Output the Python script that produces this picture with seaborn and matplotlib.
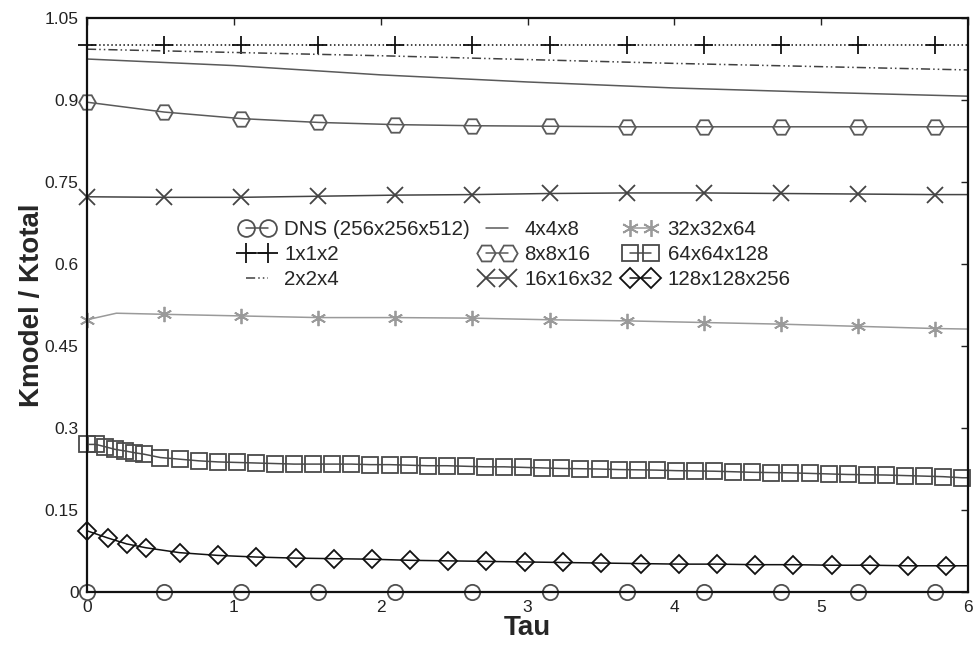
import matplotlib
matplotlib.use("Agg")
import matplotlib.pyplot as plt
from matplotlib.lines import Line2D
import seaborn as sns

# ---------------- data ----------------
tau_ticks = [0, 1, 2, 3, 4, 5, 6]
y_ticks = [0, 0.15, 0.3, 0.45, 0.6, 0.75, 0.9, 1.05]
y_tick_labels = ["0", "0.15", "0.3", "0.45", "0.6", "0.75", "0.9", "1.05"]

labels = ["DNS (256x256x512)", "1x1x2", "2x2x4", "4x4x8", "8x8x16",
          "16x16x32", "32x32x64", "64x64x128", "128x128x256"]

# coarse sampling shared by several series (marker positions) + end point
coarse_tau = [0, 0.525, 1.05, 1.575, 2.10, 2.625, 3.15, 3.675, 4.20, 4.725, 5.25, 5.775, 6.0]

dns_k = [0, 0, 0, 0, 0, 0, 0, 0, 0, 0, 0, 0, 0]
k_1x1x2 = [1.0, 1.0, 1.0, 1.0, 1.0, 1.0, 1.0, 1.0, 1.0, 1.0, 1.0, 1.0, 1.0]

smooth_tau = [0, 1, 2, 3, 4, 5, 6]
k_2x2x4 = [0.993, 0.987, 0.981, 0.974, 0.967, 0.961, 0.955]
k_4x4x8 = [0.975, 0.963, 0.946, 0.933, 0.922, 0.914, 0.907]

k_8x8x16 = [0.896, 0.878, 0.866, 0.859, 0.855, 0.853, 0.852, 0.851, 0.851, 0.851, 0.851, 0.851, 0.851]
k_16x16x32 = [0.723, 0.722, 0.722, 0.724, 0.726, 0.727, 0.729, 0.730, 0.730, 0.729, 0.728, 0.727, 0.727]

tau_32 = [0, 0.2, 0.525, 1.05, 1.575, 2.10, 2.625, 3.15, 3.675, 4.20, 4.725, 5.25, 5.775, 6.0]
k_32x32x64 = [0.498, 0.510, 0.508, 0.505, 0.502, 0.502, 0.501, 0.498, 0.496, 0.493, 0.490, 0.486, 0.482, 0.481]

tau_64 = [0, 0.06, 0.12, 0.19, 0.26, 0.32, 0.39, 0.50, 0.63, 0.76, 0.89, 1.02, 1.15,
          1.28, 1.41, 1.54, 1.67, 1.80, 1.93, 2.06, 2.19, 2.32, 2.45, 2.58, 2.71,
          2.84, 2.97, 3.10, 3.23, 3.36, 3.49, 3.62, 3.75, 3.88, 4.01, 4.14, 4.27,
          4.40, 4.53, 4.66, 4.79, 4.92, 5.05, 5.18, 5.31, 5.44, 5.57, 5.70, 5.83, 5.96, 6.0]
k_64x64x128 = [0.270, 0.270, 0.266, 0.261, 0.258, 0.255, 0.252, 0.246, 0.243, 0.240, 0.238, 0.237, 0.236,
               0.235, 0.234, 0.234, 0.234, 0.234, 0.233, 0.233, 0.232, 0.231, 0.231, 0.230, 0.229,
               0.229, 0.228, 0.227, 0.226, 0.2255, 0.225, 0.224, 0.2235, 0.223, 0.222, 0.2215, 0.221,
               0.220, 0.219, 0.2185, 0.218, 0.217, 0.216, 0.215, 0.2145, 0.214, 0.213, 0.212, 0.211, 0.209, 0.209]

tau_128 = [0, 0.14, 0.27, 0.40, 0.63, 0.89, 1.15, 1.42, 1.68, 1.94, 2.20, 2.46, 2.72,
           2.98, 3.24, 3.50, 3.77, 4.03, 4.29, 4.55, 4.81, 5.07, 5.33, 5.59, 5.85, 6.0]
k_128x128x256 = [0.112, 0.099, 0.088, 0.081, 0.072, 0.067, 0.064, 0.062, 0.061, 0.060, 0.058, 0.057, 0.056,
                 0.055, 0.054, 0.053, 0.052, 0.051, 0.051, 0.050, 0.050, 0.049, 0.049, 0.048, 0.048, 0.048]

# ---------------- style ----------------
sns.set_style("white")
plt.rcParams["font.family"] = ["Liberation Sans", "DejaVu Sans"]

fig = plt.figure(figsize=(9.73, 6.48), dpi=100)
ax = fig.add_axes([0.0894, 0.0864, 0.9056, 0.8858])

ASTER = (6, 2, 0)
dashdotdot = (0, (6, 2, 1, 2, 1, 2))

series = [
    # x, y, color, linestyle, marker, ms, markevery
    (coarse_tau, dns_k, "#505050", "-", "o", 11, list(range(12))),
    (coarse_tau, k_1x1x2, "#111111", ":", "+", 13, list(range(12))),
    (smooth_tau, k_2x2x4, "#404040", dashdotdot, None, 0, None),
    (smooth_tau, k_4x4x8, "#5a5a5a", "-", None, 0, None),
    (coarse_tau, k_8x8x16, "#5a5a5a", "-", "H", 12, list(range(12))),
    (coarse_tau, k_16x16x32, "#444444", "-", "x", 12, list(range(12))),
    (tau_32, k_32x32x64, "#9a9a9a", "-", ASTER, 11, [0] + list(range(2, 13))),
    (tau_64, k_64x64x128, "#4a4a4a", "-", "s", 11, list(range(len(tau_64) - 1))),
    (tau_128, k_128x128x256, "#111111", "-", "D", 9, list(range(len(tau_128) - 1))),
]

handles = []
for (xs, ys, col, ls, mk, ms, me), lab in zip(series, labels):
    kw = dict(color=col, linestyle=ls, linewidth=1.1, clip_on=False)
    if mk is not None:
        kw.update(marker=mk, markersize=ms, markevery=me,
                  markerfacecolor="none", markeredgecolor=col,
                  markeredgewidth=1.3)
    sns.lineplot(x=xs, y=ys, ax=ax, legend=False, sort=False, **kw)
    if mk is not None:
        handles.append(Line2D([], [], color=col, linestyle="-", linewidth=1.1,
                              marker=mk, markersize=ms * 1.1,
                              markerfacecolor="none", markeredgecolor=col,
                              markeredgewidth=1.3))
    else:
        handles.append(Line2D([], [], color=col, linestyle=ls, linewidth=1.1))

ax.set_xlim(0, 6)
ax.set_ylim(0, 1.05)
ax.set_xticks(tau_ticks)
ax.set_xticklabels([str(t) for t in tau_ticks])
ax.set_yticks(y_ticks)
ax.set_yticklabels(y_tick_labels)

ax.tick_params(direction="in", length=5, width=1, top=True, right=True,
               labelsize=12.5, colors="#222222", pad=6)
for sp in ax.spines.values():
    sp.set_color("#111111")
    sp.set_linewidth(1.6)

ax.set_xlabel("Tau", fontsize=20, fontweight="bold", labelpad=0)
ax.set_ylabel("Kmodel / Ktotal", fontsize=20, fontweight="bold", labelpad=0)

leg = ax.legend(handles, labels, ncol=3, loc="upper left",
                bbox_to_anchor=(240 / 973, 1 - 220 / 648),
                bbox_transform=fig.transFigure, frameon=False,
                fontsize=14.8, numpoints=2, handlelength=1.65,
                handletextpad=0.5, columnspacing=0.5, labelspacing=0.3,
                borderpad=0, borderaxespad=0)

fig.savefig("out.png", dpi=100)
